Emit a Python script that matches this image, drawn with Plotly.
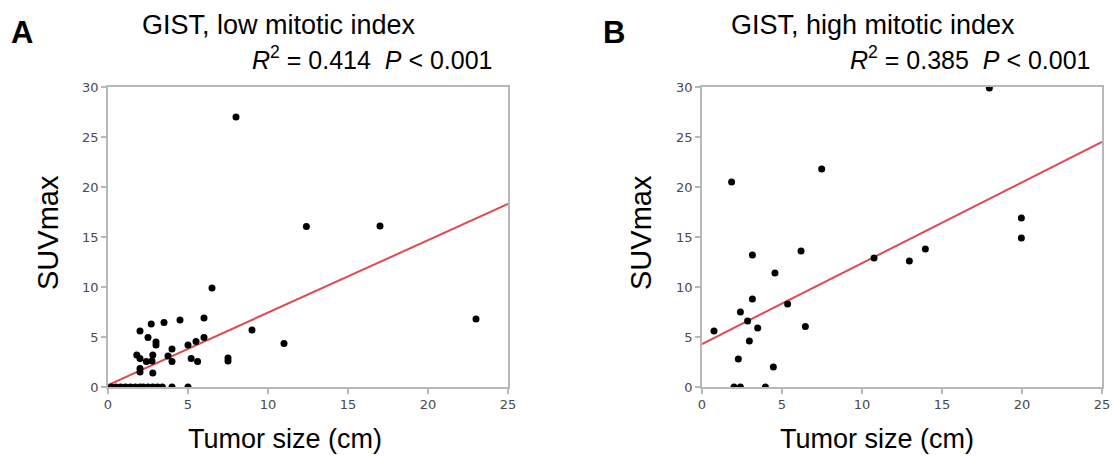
import plotly.graph_objects as go

W, H = 1113, 456

# ---------------- data ----------------
# Panel A: GIST, low mitotic index
a_x = [1.8, 2.0, 2.0, 2.0, 2.0, 2.4, 2.5, 2.7, 2.75, 2.8, 2.8, 3.0, 3.0, 3.5, 3.75,
       4.0, 4.0, 4.5, 5.0, 5.2, 5.5, 5.6, 6.0, 6.0, 6.5, 7.5, 7.5, 8.0, 9.0, 11.0,
       12.4, 17.0, 23.0,
       0.2, 0.5, 0.8, 1.1, 1.4, 1.7, 2.0, 2.2, 2.5, 2.8, 3.1, 3.4, 4.0, 5.0]
a_y = [3.2, 2.85, 5.6, 1.85, 1.5, 2.55, 4.95, 6.3, 2.6, 3.2, 1.4, 4.5, 4.2, 6.45, 3.1,
       2.55, 3.8, 6.7, 4.2, 2.85, 4.55, 2.55, 6.9, 4.95, 9.9, 2.9, 2.6, 27.0, 5.7, 4.35,
       16.05, 16.1, 6.8,
       0, 0, 0, 0, 0, 0, 0, 0, 0, 0, 0, 0, 0, 0]
a_fit_x = [0, 25]
a_fit_y = [0.2, 18.3]

# Panel B: GIST, high mitotic index
b_x = [0.75, 1.85, 2.0, 2.4, 2.27, 2.4, 2.85, 2.96, 3.15, 3.15, 3.48, 3.96, 4.46, 4.56,
       5.35, 6.19, 6.46, 7.48, 10.75, 12.96, 13.96, 17.96, 19.96, 19.96]
b_y = [5.6, 20.5, 0, 0, 2.8, 7.5, 6.6, 4.6, 13.2, 8.8, 5.9, 0, 2.0, 11.4,
       8.3, 13.6, 6.05, 21.8, 12.9, 12.6, 13.8, 29.9, 16.9, 14.9]
b_fit_x = [0, 25]
b_fit_y = [4.3, 24.5]

x_ticks = [0, 5, 10, 15, 20, 25]
y_ticks = [0, 5, 10, 15, 20, 25, 30]

titles = ["GIST, low mitotic index", "GIST, high mitotic index"]
stats = ["<i>R</i><sup>2</sup> = 0.414&#160;&#160;<i>P</i> &lt; 0.001",
         "<i>R</i><sup>2</sup> = 0.385&#160;&#160;<i>P</i> &lt; 0.001"]
letters = ["A", "B"]

# ---------------- figure ----------------
def px(x):
    return x / W

def py(y):
    return 1 - y / H

fig = go.Figure()

MARK = dict(color="black", size=7)
LINE = dict(color="#dc4a55", width=2)

fig.add_trace(go.Scatter(x=a_fit_x, y=a_fit_y, mode="lines", line=LINE,
                         xaxis="x", yaxis="y", showlegend=False, hoverinfo="skip"))
fig.add_trace(go.Scatter(x=a_x, y=a_y, mode="markers", marker=MARK,
                         xaxis="x", yaxis="y", showlegend=False))
fig.add_trace(go.Scatter(x=b_fit_x, y=b_fit_y, mode="lines", line=LINE,
                         xaxis="x2", yaxis="y2", showlegend=False, hoverinfo="skip"))
fig.add_trace(go.Scatter(x=b_x, y=b_y, mode="markers", marker=MARK,
                         xaxis="x2", yaxis="y2", showlegend=False))

ydom = [py(387), py(87)]
common_axis = dict(
    showline=True, mirror=True, linecolor="#b8b8b8", linewidth=1.5,
    ticks="outside", ticklen=5, tickcolor="#b8b8b8", tickwidth=1.5,
    showgrid=False, zeroline=False, automargin=False,
    tickfont=dict(family="DejaVu Sans", size=13, color="#4a4a4a"),
    fixedrange=True,
)

fig.update_layout(
    width=W, height=H, autosize=False,
    margin=dict(l=0, r=0, t=0, b=0, pad=0),
    paper_bgcolor="white", plot_bgcolor="white",
    xaxis=dict(domain=[px(108), px(508)], range=[0, 25], tickvals=x_ticks,
               anchor="y", **common_axis),
    yaxis=dict(domain=ydom, range=[0, 30], tickvals=y_ticks, anchor="x",
               **common_axis),
    xaxis2=dict(domain=[px(702), px(1102)], range=[0, 25], tickvals=x_ticks,
                anchor="y2", **common_axis),
    yaxis2=dict(domain=ydom, range=[0, 30], tickvals=y_ticks, anchor="x2",
                **common_axis),
)

FONT = "Liberation Sans, Arial, sans-serif"
ann = []
# panel letters
for lx, t in zip([22, 614], letters):
    ann.append(dict(x=px(lx), y=py(32), text="<b>" + t + "</b>", showarrow=False,
                    font=dict(family=FONT, size=31, color="black"),
                    xanchor="center", yanchor="middle"))
# titles
for cx, t in zip([279, 873], titles):
    ann.append(dict(x=px(cx), y=py(25), text=t, showarrow=False,
                    font=dict(family=FONT, size=27, color="black"),
                    xanchor="center", yanchor="middle"))
# stats
for rx, t in zip([495, 1093], stats):
    ann.append(dict(x=px(rx), y=py(58), text=t, showarrow=False,
                    font=dict(family=FONT, size=25, color="black"),
                    xanchor="right", yanchor="middle"))
# x-axis titles
for cx in [285, 877]:
    ann.append(dict(x=px(cx), y=py(439), text="Tumor size (cm)", showarrow=False,
                    font=dict(family=FONT, size=27, color="black"),
                    xanchor="center", yanchor="middle"))
# y-axis titles
for cx in [48, 641]:
    ann.append(dict(x=px(cx), y=py(233), text="SUVmax", showarrow=False,
                    textangle=-90,
                    font=dict(family=FONT, size=29, color="black"),
                    xanchor="center", yanchor="middle"))

for a in ann:
    a["xref"] = "paper"
    a["yref"] = "paper"
fig.update_layout(annotations=ann)

fig.write_html("out.html")
